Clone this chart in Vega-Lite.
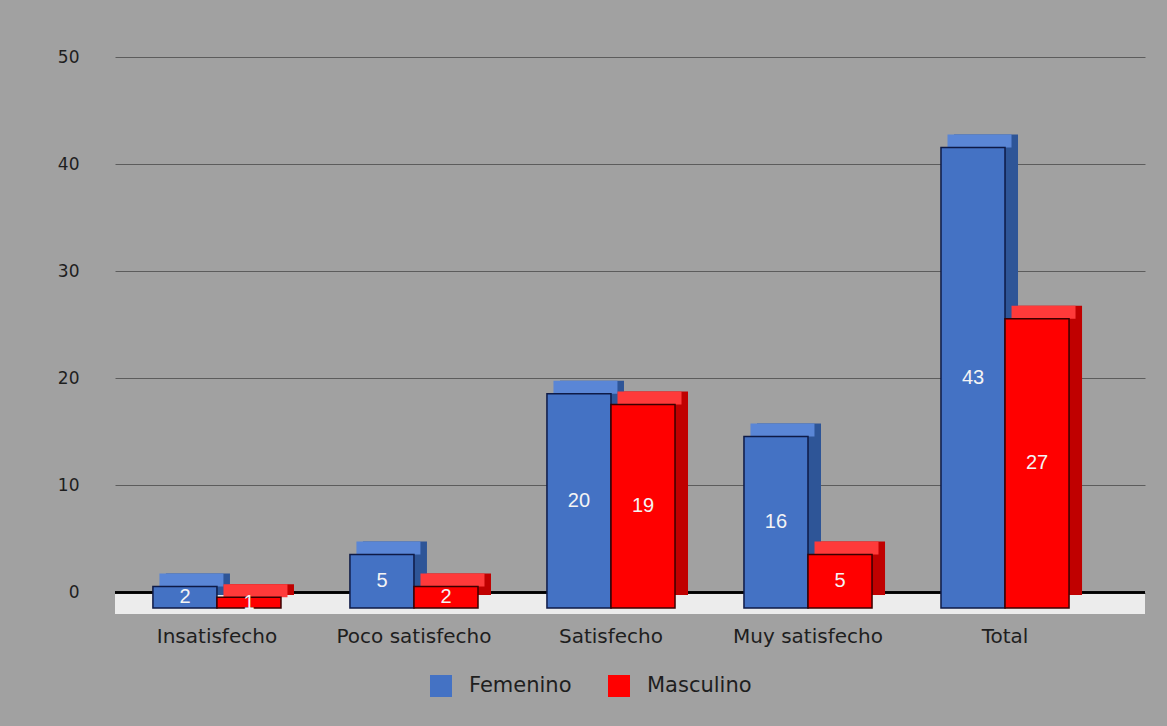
{
  "$schema": "https://vega.github.io/schema/vega-lite/v6.json",
  "width": 1030,
  "height": 557,
  "autosize": {"type": "none"},
  "padding": {"left": 115, "top": 57, "right": 22, "bottom": 112},
  "background": "#a1a1a1",
  "config": {"view": {"stroke": null}, "font": "DejaVu Sans"},
  "data": {
    "values": [
      {"categoria": "Insatisfecho", "sexo": "Femenino", "valor": 2},
      {"categoria": "Insatisfecho", "sexo": "Masculino", "valor": 1},
      {"categoria": "Poco satisfecho", "sexo": "Femenino", "valor": 5},
      {"categoria": "Poco satisfecho", "sexo": "Masculino", "valor": 2},
      {"categoria": "Satisfecho", "sexo": "Femenino", "valor": 20},
      {"categoria": "Satisfecho", "sexo": "Masculino", "valor": 19},
      {"categoria": "Muy satisfecho", "sexo": "Femenino", "valor": 16},
      {"categoria": "Muy satisfecho", "sexo": "Masculino", "valor": 5},
      {"categoria": "Total", "sexo": "Femenino", "valor": 43},
      {"categoria": "Total", "sexo": "Masculino", "valor": 27}
    ]
  },
  "layer": [
    {
      "mark": {"type": "rect", "fill": "#ececec"},
      "encoding": {
        "y": {"datum": 0, "type": "quantitative", "scale": {"domain": [-2, 50], "nice": false, "zero": false}, "axis": null},
        "y2": {"datum": -2}
      }
    },
    {
      "mark": {"type": "rule", "color": "#000000", "strokeWidth": 1.5},
      "encoding": {
        "y": {
          "datum": 0, "type": "quantitative",
          "scale": {"domain": [-2, 50], "nice": false, "zero": false},
          "axis": {"title": null, "values": [0, 10, 20, 30, 40, 50], "grid": true, "gridColor": "#5c5c5c", "gridWidth": 1, "domain": false, "ticks": false, "labelPadding": 36, "labelFontSize": 17, "labelColor": "#1e1e1e", "labelFont": "DejaVu Sans"}
        }
      }
    },
    {
      "encoding": {
        "x": {
          "field": "categoria", "type": "nominal",
          "sort": ["Insatisfecho", "Poco satisfecho", "Satisfecho", "Muy satisfecho", "Total"],
          "scale": {"paddingInner": 0.35, "paddingOuter": 0.289, "align": 0.333},
          "axis": {"title": null, "labelAngle": 0, "domain": false, "ticks": false, "labelPadding": 12, "labelFontSize": 20, "labelColor": "#1e1e1e", "labelFont": "DejaVu Sans"}
        }
      },
      "layer": [
        {
          "mark": {"type": "bar", "yOffset": -13, "y2Offset": -13},
          "encoding": {
            "xOffset": {"field": "sexo", "type": "nominal", "sort": ["Femenino", "Masculino"], "scale": {"range": [13, 141.06], "paddingInner": 0, "paddingOuter": 0}},
            "y": {"field": "valor", "type": "quantitative", "scale": {"domain": [-0.56, 51.44], "nice": false, "zero": false}, "axis": null},
            "y2": {"datum": 0},
            "fill": {"condition": {"test": "datum.sexo === 'Femenino'", "value": "#2e5597"}, "value": "#c00000"}
          }
        },
        {
          "mark": {"type": "tick", "orient": "horizontal", "thickness": 13, "size": 64, "yOffset": -6.5, "opacity": 1},
          "encoding": {
            "xOffset": {"field": "sexo", "type": "nominal", "sort": ["Femenino", "Masculino"], "scale": {"range": [6.5, 134.56], "paddingInner": 0, "paddingOuter": 0}},
            "y": {"field": "valor", "type": "quantitative"},
            "color": {"condition": {"test": "datum.sexo === 'Femenino'", "value": "#5a86d6"}, "value": "#ff3a3a"}
          }
        },
        {
          "mark": {"type": "bar", "strokeWidth": 1.5},
          "encoding": {
            "xOffset": {"field": "sexo", "type": "nominal", "sort": ["Femenino", "Masculino"], "scale": {"paddingInner": 0, "paddingOuter": 0}},
            "y": {"field": "valor", "type": "quantitative"},
            "y2": {"datum": 0},
            "stroke": {"condition": {"test": "datum.sexo === 'Femenino'", "value": "#0e1a46"}, "value": "#3a0000"},
            "color": {
              "field": "sexo", "type": "nominal",
              "scale": {"domain": ["Femenino", "Masculino"], "range": ["#4472c4", "#ff0000"]},
              "legend": {
                "title": null, "orient": "none", "legendX": 315, "legendY": 618, "direction": "horizontal",
                "symbolType": "square", "symbolSize": 484, "symbolStrokeWidth": 0, "labelFontSize": 21,
                "labelColor": "#1e1e1e", "labelOffset": 17, "columnPadding": 36, "labelFont": "DejaVu Sans"
              }
            }
          }
        },
        {
          "transform": [{"calculate": "datum.valor / 2", "as": "mitad"}],
          "mark": {"type": "text", "color": "#f4f4f4", "fontSize": 20, "font": "Liberation Sans", "baseline": "middle"},
          "encoding": {
            "xOffset": {"field": "sexo", "type": "nominal", "sort": ["Femenino", "Masculino"], "scale": {"type": "point", "range": [32.02, 96.05], "padding": 0}},
            "y": {"field": "mitad", "type": "quantitative"},
            "text": {"field": "valor", "type": "quantitative"}
          }
        }
      ],
      "resolve": {"scale": {"xOffset": "independent"}}
    }
  ],
  "resolve": {"scale": {"y": "independent"}}
}
